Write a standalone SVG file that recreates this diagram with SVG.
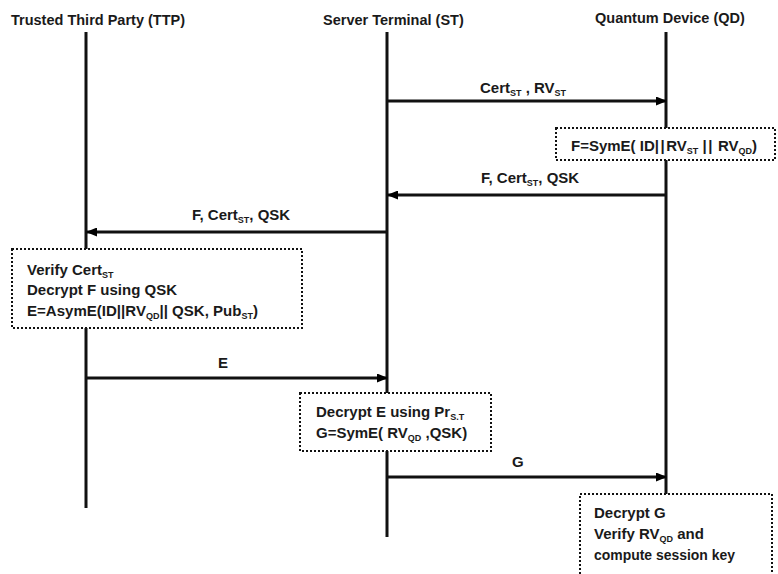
<svg xmlns="http://www.w3.org/2000/svg" width="778" height="574" viewBox="0 0 778 574">
<defs>
<marker id="ah" markerWidth="11" markerHeight="9" refX="10" refY="4.5" orient="auto" markerUnits="userSpaceOnUse">
<path d="M0,0 L11,4.5 L0,9 Z" fill="#000"/>
</marker>
</defs>
<style>
text{font-family:"Liberation Sans Narrow","Liberation Sans",Arial,sans-serif;font-weight:bold;font-size:15px;fill:#1a1a1a}
.hdr{font-size:14.5px}
.sub{font-size:9px}
.pp{letter-spacing:1.5px}
.life{stroke:#111;stroke-width:3;fill:none}
.msg{stroke:#111;stroke-width:3;fill:none;marker-end:url(#ah)}
.box{fill:#fff;stroke:#111;stroke-width:2;stroke-dasharray:2 2}
</style>
<rect width="778" height="574" fill="#fff"/>
<g id="TTP">
<text class="hdr" x="11" y="25">Trusted Third Party (TTP)</text>
<line class="life" x1="86" y1="32" x2="86" y2="508"/>
</g>
<g id="ST">
<text class="hdr" x="323" y="25">Server Terminal (ST)</text>
<line class="life" x1="387" y1="32" x2="387" y2="537"/>
</g>
<g id="QD">
<text class="hdr" x="595" y="23">Quantum Device (QD)</text>
<line class="life" x1="666" y1="32" x2="666" y2="494"/>
</g>
<g id="connectors">
<line class="msg" x1="388" y1="101" x2="666" y2="101"/>
<line class="msg" x1="665" y1="195" x2="388" y2="195"/>
<line class="msg" x1="386" y1="232" x2="87" y2="232"/>
<line class="msg" x1="87" y1="378" x2="387" y2="378"/>
<line class="msg" x1="388" y1="477" x2="666" y2="477"/>
<text x="480" y="93">Cert<tspan class="sub" dy="3">ST</tspan><tspan dy="-3"> , RV</tspan><tspan class="sub" dy="3">ST</tspan></text>
<text x="481" y="183">F, Cert<tspan class="sub" dy="3">ST</tspan><tspan dy="-3">,  QSK</tspan></text>
<text x="192" y="220">F, Cert<tspan class="sub" dy="3">ST</tspan><tspan dy="-3">,  QSK</tspan></text>
<text x="218" y="368">E</text>
<text x="512" y="467">G</text>
</g>
<g id="boxF">
<rect class="box" x="556" y="128" width="219" height="32"/>
<text x="571" y="151">F=SymE( ID<tspan class="pp">||</tspan>RV<tspan class="sub" dy="3">ST</tspan><tspan dy="-3"> <tspan class="pp">||</tspan> RV</tspan><tspan class="sub" dy="3">QD</tspan><tspan dy="-3">)</tspan></text>
</g>
<g id="boxTTP">
<rect class="box" x="12" y="249" width="290" height="79"/>
<text x="27" y="275">Verify Cert<tspan class="sub" dy="3">ST</tspan></text>
<text x="27" y="295">Decrypt F using QSK</text>
<text x="27" y="316" textLength="231" lengthAdjust="spacingAndGlyphs">E=AsymE(ID||RV<tspan class="sub" dy="3">QD</tspan><tspan dy="-3">|| QSK, Pub</tspan><tspan class="sub" dy="3">ST</tspan><tspan dy="-3">)</tspan></text>
</g>
<g id="boxST">
<rect class="box" x="300" y="393" width="191" height="58"/>
<text x="316" y="417">Decrypt E using Pr<tspan class="sub" dy="3">S.T</tspan></text>
<text x="316" y="438">G=SymE( RV<tspan class="sub" dy="3">QD</tspan><tspan dy="-3"> ,QSK)</tspan></text>
</g>
<g id="boxQD">
<rect class="box" x="580" y="494" width="192" height="84"/>
<text x="594" y="518">Decrypt G</text>
<text x="594" y="539">Verify RV<tspan class="sub" dy="3">QD</tspan><tspan dy="-3"> and</tspan></text>
<text x="594" y="560" textLength="141" lengthAdjust="spacingAndGlyphs">compute session key</text>
</g>
</svg>
